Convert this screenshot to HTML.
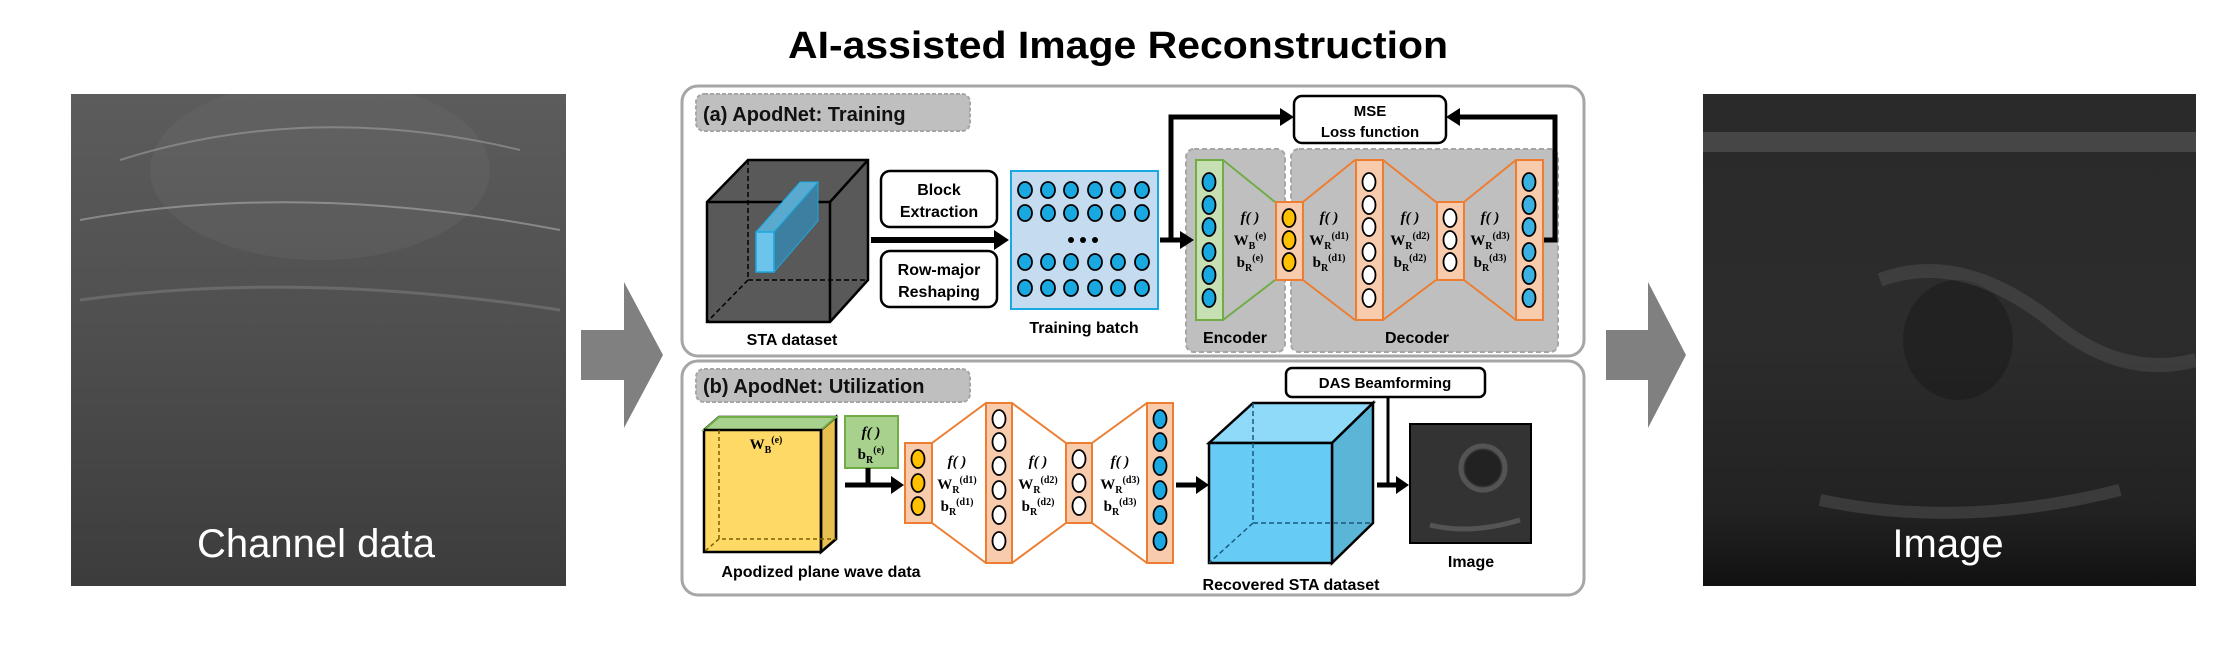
<!DOCTYPE html>
<html><head><meta charset="utf-8"><style>
html,body{margin:0;padding:0;background:#fff;}
svg{display:block}
.s{font-family:"Liberation Sans",sans-serif;font-weight:bold;}
.m{font-family:"Liberation Serif",serif;font-weight:bold;font-size:15px;}
</style></head><body>
<svg width="2234" height="659" viewBox="0 0 2234 659" xmlns="http://www.w3.org/2000/svg">
<defs>
<linearGradient id="lg" x1="0" y1="0" x2="0" y2="1">
<stop offset="0" stop-color="#5c5c5c"/><stop offset="0.45" stop-color="#505050"/><stop offset="1" stop-color="#3c3c3c"/>
</linearGradient>
<linearGradient id="rgr" x1="0" y1="0" x2="0" y2="1">
<stop offset="0" stop-color="#2a2a2a"/><stop offset="0.5" stop-color="#2c2c2c"/><stop offset="0.85" stop-color="#222"/><stop offset="1" stop-color="#111"/>
</linearGradient>
<clipPath id="cl"><rect x="71" y="94" width="495" height="492"/></clipPath>
<clipPath id="cr"><rect x="1703" y="94" width="493" height="492"/></clipPath>
</defs>

<text x="1118" y="58" text-anchor="middle" class="s" font-size="38" textLength="660" lengthAdjust="spacingAndGlyphs">AI-assisted Image Reconstruction</text>

<!-- left image -->
<g clip-path="url(#cl)">
<rect x="71" y="94" width="495" height="492" fill="url(#lg)"/>
<ellipse cx="320" cy="170" rx="170" ry="90" fill="#777" opacity="0.2"/>
<path d="M120,160 Q310,100 520,150" stroke="#aaa" stroke-width="2" fill="none" opacity="0.5"/>
<path d="M80,220 Q300,180 560,230" stroke="#bbb" stroke-width="2" fill="none" opacity="0.5"/>
<path d="M80,300 Q300,270 560,310" stroke="#999" stroke-width="3" fill="none" opacity="0.35"/>
</g>
<text x="316" y="557" text-anchor="middle" fill="#fff" font-family="Liberation Sans,sans-serif" font-size="40">Channel data</text>

<path d="M581,330 L624,330 L624,282 L663,355 L624,428 L624,380 L581,380 z" fill="#808080"/>
<path d="M1606,330 L1648,330 L1648,282 L1686,355 L1648,428 L1648,380 L1606,380 z" fill="#808080"/>

<!-- right image -->
<g clip-path="url(#cr)">
<rect x="1703" y="94" width="493" height="492" fill="url(#rgr)"/>
<rect x="1703" y="132" width="493" height="20" fill="#888" opacity="0.3"/>
<ellipse cx="1958" cy="340" rx="55" ry="60" fill="#111" opacity="0.35"/>
<path d="M1880,280 Q1960,250 2050,320 Q2120,380 2196,360" stroke="#aaa" stroke-width="14" fill="none" opacity="0.15"/>
<path d="M1820,500 Q1960,530 2120,490" stroke="#aaa" stroke-width="12" fill="none" opacity="0.18"/>
</g>
<text x="1948" y="557" text-anchor="middle" fill="#fff" font-family="Liberation Sans,sans-serif" font-size="40">Image</text>

<rect x="682" y="86" width="902" height="270" rx="16" fill="#fff" stroke="#a6a6a6" stroke-width="3"/>
<rect x="682" y="361" width="902" height="234" rx="16" fill="#fff" stroke="#a6a6a6" stroke-width="3"/>

<rect x="696" y="94" width="274" height="37" rx="8" fill="#bfbfbf" stroke="#a6a6a6" stroke-width="2" stroke-dasharray="4,2"/>
<text x="703" y="121" class="s" font-size="20" fill="#111">(a) ApodNet: Training</text>

<g stroke="#000" stroke-width="2.5">
<path d="M707,202 L748,160 L868,160 L868,280 L830,322 L707,322 z" fill="#595959"/>
<path d="M707,202 L830,202 L868,160" fill="none"/>
<path d="M830,202 L830,322" fill="none"/>
</g>
<path d="M748,160 L748,280 L868,280 M748,280 L707,322" stroke="#000" stroke-width="1.5" stroke-dasharray="5,3" fill="none"/>
<path d="M756,232 L800,182 L818,182 L774,232 z" fill="#5aa9cf" stroke="#1aa8e0" stroke-width="1"/>
<path d="M774,232 L818,182 L818,221 L774,272 z" fill="#3d7fa0" stroke="#1aa8e0" stroke-width="1"/>
<rect x="756" y="232" width="18" height="40" fill="#6cc4ec" stroke="#1aa8e0" stroke-width="1.5"/>
<text x="792" y="345" text-anchor="middle" class="s" font-size="16">STA dataset</text>

<rect x="881" y="171" width="116" height="56" rx="9" fill="#fff" stroke="#000" stroke-width="2.5"/>
<text x="939" y="195" text-anchor="middle" class="s" font-size="16">Block</text>
<text x="939" y="217" text-anchor="middle" class="s" font-size="16">Extraction</text>
<rect x="881" y="251" width="116" height="56" rx="9" fill="#fff" stroke="#000" stroke-width="2.5"/>
<text x="939" y="275" text-anchor="middle" class="s" font-size="16">Row-major</text>
<text x="939" y="297" text-anchor="middle" class="s" font-size="16">Reshaping</text>
<line x1="871" y1="240" x2="996" y2="240" stroke="#000" stroke-width="6"/>
<path d="M994,230 L1009,240 L994,250 z" fill="#000"/>

<rect x="1011" y="171" width="147" height="138" fill="#c5dcf0" stroke="#1aa8e0" stroke-width="2"/>
<g fill="#1aa8e0" stroke="#000" stroke-width="1.8">
<g id="row"><ellipse cx="1025" cy="190" rx="7" ry="8"/><ellipse cx="1048" cy="190" rx="7" ry="8"/><ellipse cx="1071" cy="190" rx="7" ry="8"/><ellipse cx="1095" cy="190" rx="7" ry="8"/><ellipse cx="1118" cy="190" rx="7" ry="8"/><ellipse cx="1142" cy="190" rx="7" ry="8"/></g>
<use href="#row" y="23"/><use href="#row" y="72"/><use href="#row" y="98"/>
</g>
<circle cx="1071" cy="240" r="3" fill="#000"/><circle cx="1083" cy="240" r="3" fill="#000"/><circle cx="1095" cy="240" r="3" fill="#000"/>
<text x="1084" y="333" text-anchor="middle" class="s" font-size="16">Training batch</text>

<rect x="1186" y="149" width="99" height="203" rx="8" fill="#bfbfbf" stroke="#a6a6a6" stroke-width="2" stroke-dasharray="5,3"/>
<rect x="1291" y="149" width="267" height="203" rx="8" fill="#bfbfbf" stroke="#a6a6a6" stroke-width="2" stroke-dasharray="5,3"/>
<text x="1235" y="343" text-anchor="middle" class="s" font-size="16">Encoder</text>
<text x="1417" y="343" text-anchor="middle" class="s" font-size="16">Decoder</text>

<rect x="1294" y="96" width="152" height="47" rx="8" fill="#fff" stroke="#000" stroke-width="2.5"/>
<text x="1370" y="116" text-anchor="middle" class="s" font-size="15">MSE</text>
<text x="1370" y="137" text-anchor="middle" class="s" font-size="15">Loss function</text>
<path d="M1175,240 L1171,240 L1171,117 L1282,117" stroke="#000" stroke-width="5" fill="none"/>
<path d="M1280,108 L1294,117 L1280,126 z" fill="#000"/>
<path d="M1543,240 L1555,240 L1555,117 L1458,117" stroke="#000" stroke-width="5" fill="none"/>
<path d="M1460,108 L1446,117 L1460,126 z" fill="#000"/>
<line x1="1160" y1="240" x2="1182" y2="240" stroke="#000" stroke-width="5"/>
<path d="M1180,231 L1194,240 L1180,249 z" fill="#000"/>

<path d="M1223,160 L1275,202 M1223,320 L1275,280" stroke="#70ad47" stroke-width="2"/>
<path d="M1303,202 L1355,160 M1303,280 L1355,320 M1383,160 L1436,202 M1383,320 L1436,280 M1464,202 L1516,160 M1464,280 L1516,320" stroke="#ed7d31" stroke-width="2"/>
<rect x="1196" y="160" width="27" height="160" fill="#c6e0b4" stroke="#70ad47" stroke-width="2"/>
<rect x="1276" y="202" width="27" height="78" fill="#f8cbad" stroke="#ed7d31" stroke-width="2"/>
<rect x="1356" y="160" width="27" height="160" fill="#f8cbad" stroke="#ed7d31" stroke-width="2"/>
<rect x="1437" y="202" width="27" height="78" fill="#f8cbad" stroke="#ed7d31" stroke-width="2"/>
<rect x="1516" y="160" width="27" height="160" fill="#f8cbad" stroke="#ed7d31" stroke-width="2"/>
<g stroke="#000" stroke-width="1.8">
<g fill="#1aa8e0"><ellipse cx="1209" cy="182" rx="6.5" ry="9"/><ellipse cx="1209" cy="205" rx="6.5" ry="9"/><ellipse cx="1209" cy="227" rx="6.5" ry="9"/><ellipse cx="1209" cy="252" rx="6.5" ry="9"/><ellipse cx="1209" cy="275" rx="6.5" ry="9"/><ellipse cx="1209" cy="298" rx="6.5" ry="9"/></g>
<g fill="#ffc000"><ellipse cx="1289" cy="218" rx="6.5" ry="9"/><ellipse cx="1289" cy="240" rx="6.5" ry="9"/><ellipse cx="1289" cy="262" rx="6.5" ry="9"/></g>
<g fill="#fff"><ellipse cx="1369" cy="182" rx="6.5" ry="9"/><ellipse cx="1369" cy="205" rx="6.5" ry="9"/><ellipse cx="1369" cy="227" rx="6.5" ry="9"/><ellipse cx="1369" cy="252" rx="6.5" ry="9"/><ellipse cx="1369" cy="275" rx="6.5" ry="9"/><ellipse cx="1369" cy="298" rx="6.5" ry="9"/></g>
<g fill="#fff"><ellipse cx="1450" cy="218" rx="6.5" ry="9"/><ellipse cx="1450" cy="240" rx="6.5" ry="9"/><ellipse cx="1450" cy="262" rx="6.5" ry="9"/></g>
<g fill="#3cb0e0"><ellipse cx="1529" cy="182" rx="6.5" ry="9"/><ellipse cx="1529" cy="205" rx="6.5" ry="9"/><ellipse cx="1529" cy="227" rx="6.5" ry="9"/><ellipse cx="1529" cy="252" rx="6.5" ry="9"/><ellipse cx="1529" cy="275" rx="6.5" ry="9"/><ellipse cx="1529" cy="298" rx="6.5" ry="9"/></g>
</g>
<g class="m" text-anchor="middle">
<text x="1250" y="222" font-style="italic">f( )</text><text x="1250" y="245">W<tspan font-size="10" dy="4">B</tspan><tspan font-size="10" dy="-10">(e)</tspan></text><text x="1250" y="267">b<tspan font-size="10" dy="4">R</tspan><tspan font-size="10" dy="-10">(e)</tspan></text>
<text x="1329" y="222" font-style="italic">f( )</text><text x="1329" y="245">W<tspan font-size="10" dy="4">R</tspan><tspan font-size="10" dy="-10">(d1)</tspan></text><text x="1329" y="267">b<tspan font-size="10" dy="4">R</tspan><tspan font-size="10" dy="-10">(d1)</tspan></text>
<text x="1410" y="222" font-style="italic">f( )</text><text x="1410" y="245">W<tspan font-size="10" dy="4">R</tspan><tspan font-size="10" dy="-10">(d2)</tspan></text><text x="1410" y="267">b<tspan font-size="10" dy="4">R</tspan><tspan font-size="10" dy="-10">(d2)</tspan></text>
<text x="1490" y="222" font-style="italic">f( )</text><text x="1490" y="245">W<tspan font-size="10" dy="4">R</tspan><tspan font-size="10" dy="-10">(d3)</tspan></text><text x="1490" y="267">b<tspan font-size="10" dy="4">R</tspan><tspan font-size="10" dy="-10">(d3)</tspan></text>
</g>

<rect x="696" y="369" width="274" height="33" rx="8" fill="#bfbfbf" stroke="#a6a6a6" stroke-width="2" stroke-dasharray="4,2"/>
<text x="703" y="393" class="s" font-size="20" fill="#111">(b) ApodNet: Utilization</text>

<g stroke="#000" stroke-width="2.5">
<path d="M704,430 L719,417 L836,417 L836,539 L821,552 L704,552 z" fill="#ffd966"/>
<path d="M821,430 L836,417 L836,539 L821,552 z" fill="#e6c050"/>
<path d="M704,430 L719,417 L836,417 L821,430 z" fill="#a9d18e" stroke="#70ad47" stroke-width="2"/>
<path d="M704,430 L821,430 L821,552" fill="none"/>
</g>
<path d="M719,430 L719,539 L836,539 M719,539 L704,552" stroke="#7a6000" stroke-width="1.5" stroke-dasharray="4,3" fill="none"/>
<text x="766" y="449" text-anchor="middle" class="m">W<tspan font-size="10" dy="4">B</tspan><tspan font-size="10" dy="-10">(e)</tspan></text>
<text x="821" y="577" text-anchor="middle" class="s" font-size="16">Apodized plane wave data</text>

<rect x="845" y="416" width="53" height="52" fill="#a9d18e" stroke="#70ad47" stroke-width="2"/>
<text x="871" y="437" text-anchor="middle" class="m" font-style="italic">f( )</text>
<text x="871" y="459" text-anchor="middle" class="m">b<tspan font-size="10" dy="4">R</tspan><tspan font-size="10" dy="-10">(e)</tspan></text>
<path d="M868,468 L868,485 M845,485 L893,485" stroke="#000" stroke-width="5"/>
<path d="M891,476 L904,485 L891,494 z" fill="#000"/>

<path d="M932,443 L986,403 M932,523 L986,563 M1012,403 L1066,443 M1012,563 L1066,523 M1092,443 L1147,403 M1092,523 L1147,563" stroke="#ed7d31" stroke-width="2"/>
<rect x="905" y="443" width="27" height="80" fill="#f8cbad" stroke="#ed7d31" stroke-width="2"/>
<rect x="986" y="403" width="26" height="160" fill="#f8cbad" stroke="#ed7d31" stroke-width="2"/>
<rect x="1066" y="443" width="26" height="80" fill="#f8cbad" stroke="#ed7d31" stroke-width="2"/>
<rect x="1147" y="403" width="26" height="160" fill="#f8cbad" stroke="#ed7d31" stroke-width="2"/>
<g stroke="#000" stroke-width="1.8">
<g fill="#ffc000"><ellipse cx="918" cy="459" rx="6.5" ry="9"/><ellipse cx="918" cy="483" rx="6.5" ry="9"/><ellipse cx="918" cy="506" rx="6.5" ry="9"/></g>
<g fill="#fff"><ellipse cx="999" cy="419" rx="6.5" ry="9"/><ellipse cx="999" cy="442" rx="6.5" ry="9"/><ellipse cx="999" cy="466" rx="6.5" ry="9"/><ellipse cx="999" cy="490" rx="6.5" ry="9"/><ellipse cx="999" cy="515" rx="6.5" ry="9"/><ellipse cx="999" cy="541" rx="6.5" ry="9"/></g>
<g fill="#fff"><ellipse cx="1079" cy="459" rx="6.5" ry="9"/><ellipse cx="1079" cy="483" rx="6.5" ry="9"/><ellipse cx="1079" cy="506" rx="6.5" ry="9"/></g>
<g fill="#1aa8e0"><ellipse cx="1160" cy="419" rx="6.5" ry="9"/><ellipse cx="1160" cy="442" rx="6.5" ry="9"/><ellipse cx="1160" cy="466" rx="6.5" ry="9"/><ellipse cx="1160" cy="490" rx="6.5" ry="9"/><ellipse cx="1160" cy="515" rx="6.5" ry="9"/><ellipse cx="1160" cy="541" rx="6.5" ry="9"/></g>
</g>
<g class="m" text-anchor="middle">
<text x="957" y="466" font-style="italic">f( )</text><text x="957" y="489">W<tspan font-size="10" dy="4">R</tspan><tspan font-size="10" dy="-10">(d1)</tspan></text><text x="957" y="511">b<tspan font-size="10" dy="4">R</tspan><tspan font-size="10" dy="-10">(d1)</tspan></text>
<text x="1038" y="466" font-style="italic">f( )</text><text x="1038" y="489">W<tspan font-size="10" dy="4">R</tspan><tspan font-size="10" dy="-10">(d2)</tspan></text><text x="1038" y="511">b<tspan font-size="10" dy="4">R</tspan><tspan font-size="10" dy="-10">(d2)</tspan></text>
<text x="1120" y="466" font-style="italic">f( )</text><text x="1120" y="489">W<tspan font-size="10" dy="4">R</tspan><tspan font-size="10" dy="-10">(d3)</tspan></text><text x="1120" y="511">b<tspan font-size="10" dy="4">R</tspan><tspan font-size="10" dy="-10">(d3)</tspan></text>
</g>
<line x1="1176" y1="485" x2="1198" y2="485" stroke="#000" stroke-width="5"/>
<path d="M1196,476 L1209,485 L1196,494 z" fill="#000"/>

<g stroke="#000" stroke-width="2.5">
<path d="M1209,443 L1253,403 L1373,403 L1332,443 z" fill="#8fdaf8"/>
<path d="M1332,443 L1373,403 L1373,523 L1332,563 z" fill="#5ab5d6"/>
<rect x="1209" y="443" width="123" height="120" fill="#66ccf5"/>
</g>
<path d="M1253,403 L1253,523 L1373,523 M1253,523 L1209,563" stroke="#1a5a80" stroke-width="1.5" stroke-dasharray="5,3" fill="none"/>
<text x="1291" y="590" text-anchor="middle" class="s" font-size="16">Recovered STA dataset</text>

<rect x="1286" y="368" width="199" height="29" rx="6" fill="#fff" stroke="#000" stroke-width="2.5"/>
<text x="1385" y="388" text-anchor="middle" class="s" font-size="15">DAS Beamforming</text>
<path d="M1388,397 L1388,485" stroke="#000" stroke-width="3" fill="none"/>
<path d="M1377,485 L1399,485" stroke="#000" stroke-width="5"/>
<path d="M1396,476 L1409,485 L1396,494 z" fill="#000"/>

<rect x="1410" y="424" width="121" height="119" fill="#333" stroke="#000" stroke-width="2"/>
<ellipse cx="1483" cy="468" rx="22" ry="22" fill="none" stroke="#888" stroke-width="5" opacity="0.4"/>
<ellipse cx="1483" cy="468" rx="18" ry="18" fill="#111" opacity="0.5"/>
<path d="M1430,525 Q1470,535 1520,520" stroke="#888" stroke-width="5" fill="none" opacity="0.4"/>
<text x="1471" y="567" text-anchor="middle" class="s" font-size="16">Image</text>
</svg>
</body></html>
